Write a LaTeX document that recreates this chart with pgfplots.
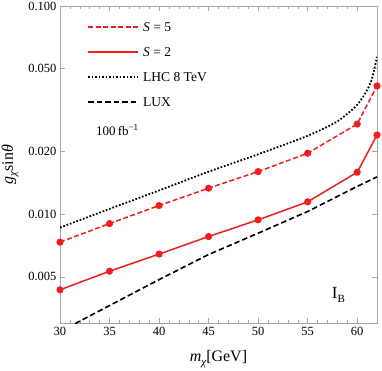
\documentclass[border=0pt]{standalone}
\usepackage{fontspec}
\setmainfont{Liberation Serif}
\usepackage{pgfplots}
\pgfplotsset{compat=1.18}
\definecolor{lred}{RGB}{240,30,30}
\begin{document}
\begin{tikzpicture}
\begin{axis}[
  scale only axis, width=317pt, height=317pt,
  ymode=log, xmin=30, xmax=62, ymin=0.003, ymax=0.1,
  xtick={30,35,40,45,50,55,60}, minor x tick num=4,
  ytick={0.005,0.01,0.02,0.05,0.1},
  yticklabels={0.005,0.010,0.020,0.050,0.100},
  tick align=inside, tick pos=both,
  major tick length=5pt, minor tick length=3pt,
  axis line style={gray!70}, every tick/.style={gray!70, line width=0.5pt},
  tick label style={font=\fontsize{12.5}{14}\selectfont},
  xticklabel style={yshift=-1pt},
  /pgf/number format/assume math mode=true,
  xlabel={{\itshape m}\raisebox{-0.45ex}{\fontsize{11}{12}\selectfont\itshape χ}[GeV]},
  ylabel={{\itshape g}\raisebox{-0.45ex}{\fontsize{11}{12}\selectfont\itshape χ}sin{\itshape θ}},
  label style={font=\fontsize{16}{18}\selectfont},
  xlabel style={yshift=-8pt},
  ylabel style={yshift=3pt},
]
\addplot[lred, line width=1.5pt, dash pattern=on 5pt off 2.5pt, mark=*, mark size=2.8pt, mark options={solid}] coordinates {
(30,0.00734) (35,0.00901) (40,0.01100) (45,0.01333) (50,0.01601) (55,0.01963) (60,0.0271) (62,0.0413)};
\addplot[lred, line width=1.5pt, mark=*, mark size=2.8pt] coordinates {
(30,0.00433) (35,0.00532) (40,0.00643) (45,0.00781) (50,0.00939) (55,0.01146) (60,0.0159) (62,0.0240)};
\addplot[black, line width=1.8pt, dash pattern=on 1.7pt off 1.8pt, smooth, tension=0.4] coordinates {
(30,0.00862) (35,0.0106) (40,0.0130) (45,0.0160) (50,0.0194) (55,0.0238) (58,0.0279) (60,0.0335) (61,0.0395) (61.5,0.0448) (62,0.0570)};
\addplot[black, line width=1.6pt, dash pattern=on 5.5pt off 3pt] coordinates {
(30,0.00273) (35,0.00364) (40,0.00485) (45,0.0064) (50,0.0081) (55,0.0103) (60,0.0136) (62,0.0151)};
% legend
\draw[lred, line width=1.5pt, dash pattern=on 5pt off 2.5pt] (axis cs:32.83,0.0793) -- (axis cs:37.87,0.0793);
\draw[lred, line width=1.5pt] (axis cs:32.83,0.0601) -- (axis cs:37.87,0.0601);
\draw[black, line width=1.8pt, dash pattern=on 1.7pt off 1.8pt] (axis cs:32.83,0.0456) -- (axis cs:37.87,0.0456);
\draw[black, line width=1.6pt, dash pattern=on 5.5pt off 3pt] (axis cs:32.83,0.0346) -- (axis cs:37.87,0.0346);
\begin{scope}[every node/.style={anchor=west, font=\fontsize{13.5}{15}\selectfont, inner sep=0pt}]
\node at (axis cs:38.38,0.0793) {{\itshape S} = 5};
\node at (axis cs:38.38,0.0601) {{\itshape S} = 2};
\node at (axis cs:38.38,0.0456) {LHC 8 TeV};
\node at (axis cs:38.38,0.0346) {LUX};
\end{scope}
\node[font=\fontsize{13}{15}\selectfont] at (axis cs:35.8,0.0254) {100\,fb\textsuperscript{−1}};
\node[font=\fontsize{17}{19}\selectfont] at (axis cs:58.1,0.0041) {I\raisebox{-0.5ex}{\fontsize{11}{13}\selectfont B}};
\end{axis}
\pgfresetboundingbox
\path ([shift={(-60pt,-47pt)}]current axis.south west) rectangle ([shift={(5pt,6pt)}]current axis.north east);
\end{tikzpicture}
\end{document}
